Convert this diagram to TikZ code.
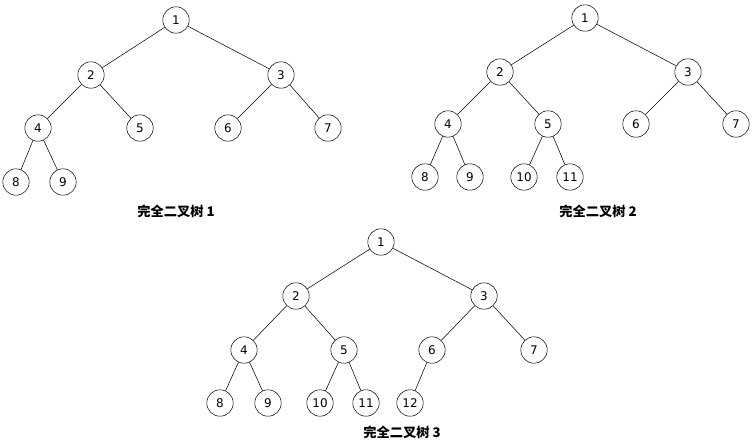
\documentclass[tikz,border=0pt]{standalone}
\usepackage{fontspec}
\setmainfont{DejaVu Sans}
\newfontfamily\cjk{Noto Sans CJK SC}
\usetikzlibrary{positioning}

\begin{document}
\begin{tikzpicture}[
        x = 0.0265cm,
        y = -0.0265cm,
        base/.style = {circle, draw, minimum size = 0.7cm, inner sep = 0pt, font = \small},
        title/.style = {font = \cjk\bfseries}]

      \useasboundingbox (0,0) rectangle (754,442);

      %tree 1
      \node[base] (A1) at (176,20) {1};
      \node[base] (A2) at (91,75) {2};
      \node[base] (A3) at (281,75) {3};
      \node[base] (A4) at (38,128) {4};
      \node[base] (A5) at (140,128) {5};
      \node[base] (A6) at (228,128) {6};
      \node[base] (A7) at (328,128) {7};
      \node[base] (A8) at (16,182) {8};
      \node[base] (A9) at (63,182) {9};
      \node[title] (TitleA) at (176,211) {完全二叉树 1};

      %tree 2
      \node[base] (B1) at (585,18) {1};
      \node[base] (B2) at (500,72) {2};
      \node[base] (B3) at (688,72) {3};
      \node[base] (B4) at (448,124) {4};
      \node[base] (B5) at (548,124) {5};
      \node[base] (B6) at (636,124) {6};
      \node[base] (B7) at (736,124) {7};
      \node[base] (B8) at (425,177) {8};
      \node[base] (B9) at (470,177) {9};
      \node[base] (B10) at (524,177) {10};
      \node[base] (B11) at (570,177) {11};
      \node[title] (TitleB) at (598,211) {完全二叉树 2};

      %tree 3
      \node[base] (C1) at (381,242) {1};
      \node[base] (C2) at (296,296) {2};
      \node[base] (C3) at (484,296) {3};
      \node[base] (C4) at (244,350) {4};
      \node[base] (C5) at (344,350) {5};
      \node[base] (C6) at (432,350) {6};
      \node[base] (C7) at (534,350) {7};
      \node[base] (C8) at (220,403) {8};
      \node[base] (C9) at (268,403) {9};
      \node[base] (C10) at (320,403) {10};
      \node[base] (C11) at (366,403) {11};
      \node[base] (C12) at (410,403) {12};
      \node[title] (TitleC) at (402,432) {完全二叉树 3};

      %edges
      \path
        (A1) edge (A2) (A1) edge (A3)
        (A2) edge (A4) (A2) edge (A5)
        (A3) edge (A6) (A3) edge (A7)
        (A4) edge (A8) (A4) edge (A9)
        ;
      \path
        (B1) edge (B2) (B1) edge (B3)
        (B2) edge (B4) (B2) edge (B5)
        (B3) edge (B6) (B3) edge (B7)
        (B4) edge (B8) (B4) edge (B9)
        (B5) edge (B10) (B5) edge (B11)
        ;
      \path
        (C1) edge (C2) (C1) edge (C3)
        (C2) edge (C4) (C2) edge (C5)
        (C3) edge (C6) (C3) edge (C7)
        (C4) edge (C8) (C4) edge (C9)
        (C5) edge (C10) (C5) edge (C11)
        (C6) edge (C12)
        ;
    \end{tikzpicture}
\end{document}
